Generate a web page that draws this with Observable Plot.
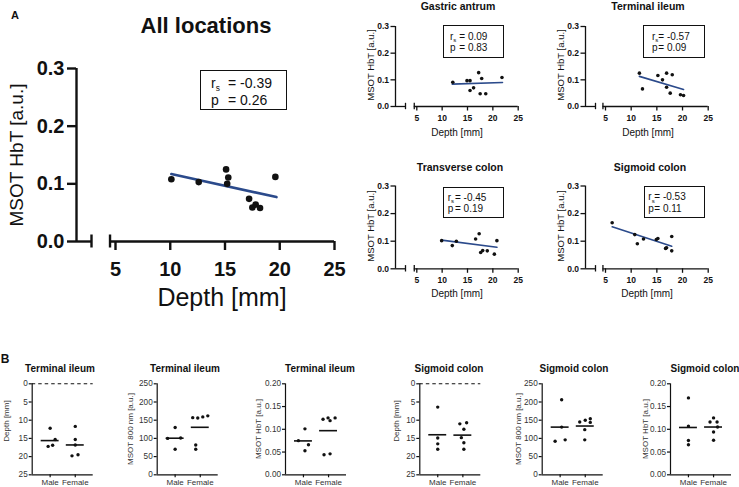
<!DOCTYPE html>
<html><head><meta charset="utf-8">
<script src="https://cdn.jsdelivr.net/npm/d3@7"></script>
<script src="https://cdn.jsdelivr.net/npm/@observablehq/plot@0.6"></script>
<style>
body{margin:0;background:#fff;}
#root{position:relative;width:739px;height:487px;overflow:hidden;font-family:"Liberation Sans",Arial,sans-serif;color:#111;background:#fff;}
#root svg{position:absolute;left:0;top:0;overflow:visible;background:transparent !important;}
.lbl{position:absolute;white-space:nowrap;line-height:1;}
.box{position:absolute;border:1.3px solid #111;box-sizing:border-box;white-space:nowrap;}
.box .k{display:inline-block;}
.box .s{font-size:.6em;position:relative;top:.35em;}
</style></head><body><div id="root"></div>
<script>
// ---------- data ----------
// Panel A: all locations
const allDepth = [10.1, 12.6, 15.1, 15.3, 15.2, 17.2, 17.5, 17.8, 18.2, 19.6];
const allHbT   = [0.108, 0.103, 0.125, 0.111, 0.100, 0.074, 0.059, 0.064, 0.058, 0.112];
const allFitDepth = [10.1, 19.7];
const allFitHbT   = [0.117, 0.077];
// Gastric antrum
const gaDepth = [12.1, 14.9, 15.5, 15.5, 16.2, 17.2, 17.8, 17.5, 18.6, 21.8];
const gaHbT   = [0.091, 0.097, 0.097, 0.060, 0.070, 0.127, 0.105, 0.048, 0.048, 0.109];
const gaFitDepth = [12.0, 21.9];
const gaFitHbT   = [0.084, 0.090];
// Terminal ileum
const tiDepth = [11.6, 12.2, 15.2, 16.1, 16.9, 16.9, 18.0, 17.6, 19.6, 20.2];
const tiHbT   = [0.125, 0.066, 0.116, 0.100, 0.125, 0.072, 0.119, 0.050, 0.044, 0.041];
const tiFitDepth = [11.6, 20.2];
const tiFitHbT   = [0.113, 0.064];
// Transverse colon
const tcDepth = [9.9, 12.0, 12.8, 16.6, 17.3, 17.6, 18.0, 18.9, 20.3, 20.8];
const tcHbT   = [0.102, 0.084, 0.100, 0.108, 0.127, 0.059, 0.066, 0.065, 0.053, 0.102];
const tcFitDepth = [9.9, 20.8];
const tcFitHbT   = [0.104, 0.078];
// Sigmoid colon
const scDepth = [6.3, 10.7, 11.2, 12.4, 14.9, 15.2, 16.7, 16.9, 17.9, 17.9];
const scHbT   = [0.167, 0.124, 0.091, 0.108, 0.106, 0.110, 0.074, 0.076, 0.117, 0.065];
const scFitDepth = [6.3, 17.9];
const scFitHbT   = [0.152, 0.082];

const hbtTicks = [0, 0.1, 0.2, 0.3];
const depthTicks = [5, 10, 15, 20, 25];

// Panel B (Male / Female)
const sexLabels = ["Male", "Female"];
const tiDepthMale = [12.2, 15.3, 16.9, 17.2];        const tiDepthMaleLane = [0, 1, 0.5, -0.4];
const tiDepthFemale = [11.7, 15.3, 16.8, 19.5, 19.8]; const tiDepthFemaleLane = [0, 0, 0, 0.55, -0.65];
const tiDepthMeans = [15.6, 16.8];
const ti800Male = [130, 100, 101, 70];                const ti800MaleLane = [0, -1.5, 1.1, 0];
const ti800Female = [157, 156, 159, 162, 82, 70];     const ti800FemaleLane = [-1.5, -0.5, 0.5, 1.5, -0.9, -0.9];
const ti800Means = [100.5, 130.5];
const tiHbTMale = [0.101, 0.075, 0.066, 0.053];       const tiHbTMaleLane = [0.3, -1, 1, 0.3];
const tiHbTFemale = [0.122, 0.125, 0.119, 0.125, 0.044, 0.046]; const tiHbTFemaleLane = [-1.1, -0.1, 0.3, 1.3, -0.9, 0.3];
const tiHbTMeans = [0.0745, 0.097];
const scDepthMale = [6.4, 14.9, 16.5, 18.0];          const scDepthMaleLane = [0, 0, 0, 0];
const scDepthFemale = [10.7, 11.0, 12.5, 14.8, 16.2, 18.0]; const scDepthFemaleLane = [0.75, -0.6, 0.2, -0.3, 0.2, 0.2];
const scDepthMeans = [14.0, 14.1];
const sc800Male = [206, 131, 92, 96];                 const sc800MaleLane = [0.3, 0.3, -1, 1];
const sc800Female = [145, 150, 154, 144, 124, 96];    const sc800FemaleLane = [-1.1, 0, 1, 1, -0.1, -0.1];
const sc800Means = [131, 134];
const scHbTMale = [0.169, 0.107, 0.0755, 0.066];      const scHbTMaleLane = [0, 0, 0, 0];
const scHbTFemale = [0.125, 0.116, 0.116, 0.105, 0.094, 0.076]; const scHbTFemaleLane = [0, -0.7, 0.7, 0.8, 0, 0];
const scHbTMeans = [0.104, 0.105];

// ---------- drawing ----------
const W = 739, H = 487;
const ink = "#111";
const fitBlue = "#2b4a8b";
const root = document.getElementById("root");
const FONT = "'Liberation Sans', Arial, sans-serif";

function addLabel(text, cx, cy, size, weight = "normal", rotate = false, color = ink) {
  const d = document.createElement("div");
  d.className = "lbl";
  d.textContent = text;
  d.style.left = cx + "px";
  d.style.top = cy + "px";
  d.style.fontSize = size + "px";
  d.style.fontWeight = weight;
  d.style.color = color;
  d.style.transform = "translate(-50%,-50%)" + (rotate ? " rotate(-90deg)" : "");
  root.appendChild(d);
}

function addStatBox(x0, y0, x1, y1, rs, p, size, padL, keyW, lineGap) {
  const b = document.createElement("div");
  b.className = "box";
  b.style.left = x0 + "px"; b.style.top = y0 + "px";
  b.style.width = (x1 - x0) + "px"; b.style.height = (y1 - y0) + "px";
  b.style.fontSize = size + "px";
  b.style.lineHeight = lineGap + "px";
  const h = y1 - y0;
  b.style.paddingTop = (h / 2 - lineGap) + "px";
  b.style.paddingLeft = padL + "px";
  b.innerHTML = `<div><span class="k" style="width:${keyW}px">r<span class="s">s</span></span>= ${rs}</div>` +
                `<div><span class="k" style="width:${keyW}px">p</span>= ${p}</div>`;
  root.appendChild(b);
}

function mount(svg) { root.appendChild(svg); }

function scatterPanel(c) {
  const pts = c.depth.map((d, i) => ({depth: d, hbt: c.hbt[i]}));
  const fit = c.fitX.map((d, i) => ({depth: d, hbt: c.fitY[i]}));
  const unit = (c.x25 - c.x5) / 20;
  const x45 = c.x5 - 0.5 * unit;
  const segs = [[0, 1], [4.5, 25]];
  return Plot.plot({
    width: W, height: H,
    marginLeft: c.axis, marginRight: W - c.x25, marginTop: c.yTop, marginBottom: H - c.yBot,
    style: {background: "transparent", fontFamily: FONT, color: ink},
    x: {type: "linear", domain: [0, 1, 4.5, 25], range: [c.axis, c.breakPx, x45, c.x25], label: null},
    y: {domain: [0, 0.3], label: null},
    marks: [
      Plot.ruleX([0], {stroke: ink, strokeWidth: c.sw}),
      Plot.ruleY(segs, {y: () => 0, x1: d => d[0], x2: d => d[1], stroke: ink, strokeWidth: c.sw}),
      Plot.ruleX([1, 4.5], {y1: () => 0, y2: () => 0, insetTop: -c.brk, insetBottom: -c.brk, stroke: ink, strokeWidth: c.sw}),
      Plot.axisY({ticks: hbtTicks, tickFormat: d3.format(".1f"), tickSize: c.tick, tickPadding: c.ypad,
                  fontSize: c.fs, fontWeight: "bold", strokeWidth: c.sw, label: null}),
      Plot.axisX({ticks: depthTicks, tickSize: c.tick, tickPadding: c.xpad,
                  fontSize: c.fs, fontWeight: "bold", strokeWidth: c.sw, label: null}),
      Plot.line(fit, {x: "depth", y: "hbt", stroke: fitBlue, strokeWidth: c.lw}),
      Plot.dot(pts, {x: "depth", y: "hbt", r: c.r, fill: ink, stroke: "none"})
    ]
  });
}

function groupPanel(c) {
  const maleX = 1, femaleX = 2.4, lane = 0.28;
  const pts = [
    ...c.male.map((v, i) => ({x: maleX + c.maleLane[i] * lane, v})),
    ...c.female.map((v, i) => ({x: femaleX + c.femaleLane[i] * lane, v}))
  ];
  const means = c.means.map((v, i) => ({g: i === 0 ? maleX : femaleX, v}));
  const bottomVal = c.reverse ? c.domain[1] : c.domain[0];
  const topVal = c.reverse ? c.domain[0] : c.domain[1];
  return Plot.plot({
    width: W, height: H,
    marginLeft: c.axis, marginRight: W - (c.axis + 61), marginTop: 383.3, marginBottom: H - 474.3,
    style: {background: "transparent", fontFamily: FONT, color: ink},
    x: {domain: [0, 3.4], label: null},
    y: {domain: c.domain, reverse: c.reverse, label: null},
    marks: [
      c.dashed ? Plot.ruleY([topVal], {stroke: ink, strokeWidth: 1.1, strokeDasharray: "3.5,3"}) : null,
      Plot.ruleX([0], {stroke: ink, strokeWidth: 1.2}),
      Plot.ruleY([bottomVal], {stroke: ink, strokeWidth: 1.2}),
      Plot.axisY({ticks: c.ticks, tickFormat: c.fmt, tickSize: 3, tickPadding: 1.5, fontSize: 8.2,
                  fill: "#333", stroke: ink, strokeWidth: 1.2, label: null}),
      Plot.axisX({ticks: [maleX, femaleX], tickFormat: d => d === maleX ? sexLabels[0] : sexLabels[1],
                  tickSize: 3, tickPadding: 1.5, fontSize: 8, fill: "#333", stroke: ink, strokeWidth: 1.2, label: null}),
      Plot.ruleY(means, {y: "v", x1: d => d.g - 0.5, x2: d => d.g + 0.5, stroke: ink, strokeWidth: 1.6}),
      Plot.dot(pts, {x: "x", y: "v", r: 1.7, fill: ink, stroke: "none"})
    ]
  });
}

// ---- A: big panel ----
mount(scatterPanel({axis: 76, breakPx: 91, x5: 115, x25: 334, yTop: 68, yBot: 241,
  depth: allDepth, hbt: allHbT, fitX: allFitDepth, fitY: allFitHbT,
  sw: 2.4, brk: 6.5, tick: 9, ypad: 3, xpad: 11, fs: 20, lw: 2.6, r: 3.3}));
addLabel("A", 15, 15, 11, "bold");
addLabel("All locations", 206, 26, 22, "bold");
addLabel("MSOT HbT [a.u.]", 16, 155, 19, "normal", true);
addLabel("Depth [mm]", 222, 297, 25);
addStatBox(200, 70, 287, 110, "-0.39", "0.26", 14, 10, 17, 15);

// ---- small panels ----
const small = {sw: 1.3, brk: 3.2, tick: 4.5, ypad: 2, xpad: 4, fs: 8.5, lw: 1.6, r: 1.8};
mount(scatterPanel({...small, axis: 395, breakPx: 405, x5: 416.3, x25: 517.7, yTop: 26, yBot: 106,
  depth: gaDepth, hbt: gaHbT, fitX: gaFitDepth, fitY: gaFitHbT}));
mount(scatterPanel({...small, axis: 585, breakPx: 595, x5: 605, x25: 707.7, yTop: 26, yBot: 106,
  depth: tiDepth, hbt: tiHbT, fitX: tiFitDepth, fitY: tiFitHbT}));
mount(scatterPanel({...small, axis: 395, breakPx: 405, x5: 416.3, x25: 517.7, yTop: 185.5, yBot: 268.3,
  depth: tcDepth, hbt: tcHbT, fitX: tcFitDepth, fitY: tcFitHbT}));
mount(scatterPanel({...small, axis: 585, breakPx: 595, x5: 605, x25: 707.7, yTop: 185.5, yBot: 268.3,
  depth: scDepth, hbt: scHbT, fitX: scFitDepth, fitY: scFitHbT}));

addLabel("Gastric antrum", 458, 6, 10.5, "bold");
addLabel("Terminal ileum", 648, 6, 10.5, "bold");
addLabel("Transverse colon", 460, 167, 10.5, "bold");
addLabel("Sigmoid colon", 650, 167, 10.5, "bold");
addLabel("MSOT HbT [a.u.]", 371, 65, 9.5, "normal", true);
addLabel("MSOT HbT [a.u.]", 561, 65, 9.5, "normal", true);
addLabel("MSOT HbT [a.u.]", 371, 226, 9.5, "normal", true);
addLabel("MSOT HbT [a.u.]", 561, 226, 9.5, "normal", true);
addLabel("Depth [mm]", 457, 133, 10);
addLabel("Depth [mm]", 648, 133, 10);
addLabel("Depth [mm]", 457, 294, 10);
addLabel("Depth [mm]", 647, 294, 10);
addStatBox(443.3, 25, 504.3, 57.7, "0.09", "0.83", 10, 5.7, 9.3, 10.7);
addStatBox(643.3, 25, 705, 57.7, "-0.57", "0.09", 10, 7.7, 6.3, 10.7);
addStatBox(443.3, 186.7, 504, 218.3, "-0.45", "0.19", 10, 3.4, 7.3, 10.7);
addStatBox(644, 186, 705, 218.3, "-0.53", "0.11", 10, 3.3, 6, 10.7);

// ---- B panels ----
const depthFmt = d3.format("d");
const n800Fmt = d3.format("d");
const hbt2Fmt = d3.format(".2f");
mount(groupPanel({axis: 31.7, domain: [0, 25], reverse: true, ticks: [0, 5, 10, 15, 20, 25], fmt: depthFmt, dashed: true,
  male: tiDepthMale, maleLane: tiDepthMaleLane, female: tiDepthFemale, femaleLane: tiDepthFemaleLane, means: tiDepthMeans}));
mount(groupPanel({axis: 156.7, domain: [0, 250], reverse: false, ticks: [0, 50, 100, 150, 200, 250], fmt: n800Fmt,
  male: ti800Male, maleLane: ti800MaleLane, female: ti800Female, femaleLane: ti800FemaleLane, means: ti800Means}));
mount(groupPanel({axis: 285, domain: [0, 0.2], reverse: false, ticks: [0, 0.05, 0.1, 0.15, 0.2], fmt: hbt2Fmt,
  male: tiHbTMale, maleLane: tiHbTMaleLane, female: tiHbTFemale, femaleLane: tiHbTFemaleLane, means: tiHbTMeans}));
mount(groupPanel({axis: 419.3, domain: [0, 25], reverse: true, ticks: [0, 5, 10, 15, 20, 25], fmt: depthFmt, dashed: true,
  male: scDepthMale, maleLane: scDepthMaleLane, female: scDepthFemale, femaleLane: scDepthFemaleLane, means: scDepthMeans}));
mount(groupPanel({axis: 541.7, domain: [0, 250], reverse: false, ticks: [0, 50, 100, 150, 200, 250], fmt: n800Fmt,
  male: sc800Male, maleLane: sc800MaleLane, female: sc800Female, femaleLane: sc800FemaleLane, means: sc800Means}));
mount(groupPanel({axis: 670, domain: [0, 0.2], reverse: false, ticks: [0, 0.05, 0.1, 0.15, 0.2], fmt: hbt2Fmt,
  male: scHbTMale, maleLane: scHbTMaleLane, female: scHbTFemale, femaleLane: scHbTFemaleLane, means: scHbTMeans}));

addLabel("B", 5, 359, 12, "bold");
addLabel("Terminal ileum", 60, 369, 10, "bold");
addLabel("Terminal ileum", 185, 369, 10, "bold");
addLabel("Terminal ileum", 320, 369, 10, "bold");
addLabel("Sigmoid colon", 449, 369, 10, "bold");
addLabel("Sigmoid colon", 574, 369, 10, "bold");
addLabel("Sigmoid colon", 705, 369, 10, "bold");
addLabel("Depth [mm]", 7.3, 421, 8, "normal", true, "#333");
addLabel("MSOT 800 nm [a.u.]", 131, 429, 8, "normal", true, "#333");
addLabel("MSOT HbT [a.u.]", 259.3, 429, 8, "normal", true, "#333");
addLabel("Depth [mm]", 397.3, 421, 8, "normal", true, "#333");
addLabel("MSOT 800 nm [a.u.]", 519, 429, 8, "normal", true, "#333");
addLabel("MSOT HbT [a.u.]", 645.5, 429, 8, "normal", true, "#333");
</script></body></html>
